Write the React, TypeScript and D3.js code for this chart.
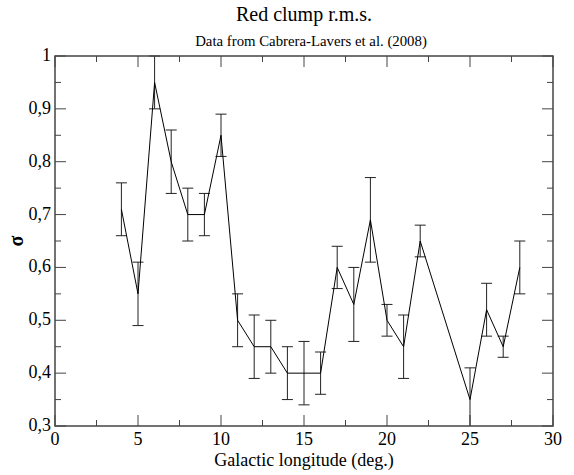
import React from "react";
import * as d3 from "d3";

const longitudes = [4, 5, 6, 7, 8, 9, 10, 11, 12, 13, 14, 15, 16, 17, 18, 19, 20, 21, 22, 25, 26, 27, 28];
const sigmaValues = [0.71, 0.55, 0.95, 0.8, 0.7, 0.7, 0.85, 0.5, 0.45, 0.45, 0.4, 0.4, 0.4, 0.6, 0.53, 0.69, 0.5, 0.45, 0.65, 0.35, 0.52, 0.45, 0.6];
const sigmaErrors = [0.05, 0.06, 0.05, 0.06, 0.05, 0.04, 0.04, 0.05, 0.06, 0.05, 0.05, 0.06, 0.04, 0.04, 0.07, 0.08, 0.03, 0.06, 0.03, 0.06, 0.05, 0.02, 0.05];
const xTicks = [0, 5, 10, 15, 20, 25, 30];
const xMinorTicks = [2.5, 7.5, 12.5, 17.5, 22.5, 27.5];
const yTicks = [0.3, 0.4, 0.5, 0.6, 0.7, 0.8, 0.9, 1.0];
const yMinorTicks = [0.35, 0.45, 0.55, 0.65, 0.75, 0.85, 0.95];

export default function App() {
  const W = 574, H = 475;
  const left = 55, right = 553, top = 56, bottom = 426;
  const x = d3.scaleLinear().domain([0, 30]).range([left, right]);
  const y = d3.scaleLinear().domain([0.3, 1.0]).range([bottom, top]);
  const clampY = (v: number) => y(Math.max(0.3, Math.min(1.0, v)));
  const data = longitudes.map((l, i) => ({ l, v: sigmaValues[i], e: sigmaErrors[i] }));
  const line = d3.line<{ l: number; v: number }>().x(d => x(d.l)).y(d => y(d.v));
  const fmt = (v: number) => (Math.abs(v - 1) < 1e-9 ? "1" : v.toFixed(1).replace(".", ","));
  const frame = "#444";
  const major = 11, minor = 6;
  const cap = 5.5;
  const ts = { fontFamily: "Liberation Serif, Times New Roman, serif" };

  return (
    <svg width={W} height={H} style={{ position: "absolute", left: 0, top: 0 }}>
      <rect width={W} height={H} fill="#fff" />
      <text style={ts} x={(left + right) / 2} y={21} textAnchor="middle" fontSize={20}>Red clump r.m.s.</text>
      <text style={ts} x={(left + right) / 2 + 7} y={46} textAnchor="middle" fontSize={14.8}>Data from Cabrera-Lavers et al. (2008)</text>

      {xTicks.map(t => (
        <g key={"xt" + t}>
          <line x1={x(t)} x2={x(t)} y1={bottom} y2={bottom - major} stroke={frame} />
          <line x1={x(t)} x2={x(t)} y1={top} y2={top + major} stroke={frame} />
          <text style={ts} x={x(t)} y={bottom + 19} textAnchor="middle" fontSize={18}>{t}</text>
        </g>
      ))}
      {xMinorTicks.map(t => (
        <g key={"xm" + t}>
          <line x1={x(t)} x2={x(t)} y1={bottom} y2={bottom - minor} stroke={frame} />
          <line x1={x(t)} x2={x(t)} y1={top} y2={top + minor} stroke={frame} />
        </g>
      ))}
      {yTicks.map(t => (
        <g key={"yt" + t}>
          <line x1={left} x2={left + major} y1={y(t)} y2={y(t)} stroke={frame} />
          <line x1={right} x2={right - major} y1={y(t)} y2={y(t)} stroke={frame} />
          <text style={ts} x={left - 4} y={y(t) + 5} textAnchor="end" fontSize={18}>{fmt(t)}</text>
        </g>
      ))}
      {yMinorTicks.map(t => (
        <g key={"ym" + t}>
          <line x1={left} x2={left + minor} y1={y(t)} y2={y(t)} stroke={frame} />
          <line x1={right} x2={right - minor} y1={y(t)} y2={y(t)} stroke={frame} />
        </g>
      ))}

      {data.map(d => {
        const yt = clampY(d.v + d.e);
        const yb = clampY(d.v - d.e);
        return (
          <g key={"e" + d.l} stroke="#222" strokeWidth={1}>
            <line x1={x(d.l)} x2={x(d.l)} y1={yt} y2={yb} />
            {d.v + d.e <= 1.0 && <line x1={x(d.l) - cap} x2={x(d.l) + cap} y1={yt} y2={yt} />}
            {d.v - d.e >= 0.3 && <line x1={x(d.l) - cap} x2={x(d.l) + cap} y1={yb} y2={yb} />}
          </g>
        );
      })}
      <path d={line(data) || ""} fill="none" stroke="#000" strokeWidth={1} />

      <rect x={left} y={top} width={right - left} height={bottom - top} fill="none" stroke={frame} strokeWidth={1.5} />

      <text style={ts} x={(left + right) / 2} y={466} textAnchor="middle" fontSize={18}>Galactic longitude (deg.)</text>
      <text style={ts} transform={`translate(23, 241) rotate(-90)`} textAnchor="middle" fontSize={20} fontWeight="bold">σ</text>
    </svg>
  );
}
